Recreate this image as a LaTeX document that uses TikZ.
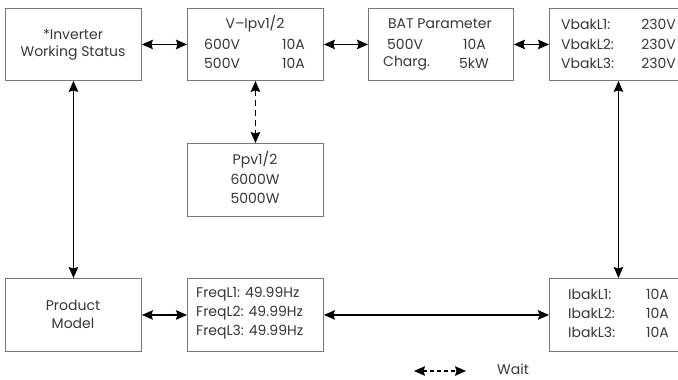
\documentclass[tikz,border=0pt]{standalone}
\usepackage{fontspec}
\setmainfont{Poppins}
\usetikzlibrary{arrows.meta}
\definecolor{boxgray}{RGB}{120,120,120}
\definecolor{txt}{RGB}{55,55,55}
\tikzset{
  box/.style={draw=boxgray, line width=0.9bp, minimum width=136bp, minimum height=72bp, inner sep=0pt, anchor=north west},
  lbl/.style={font=\fontsize{14bp}{16bp}\selectfont, text=txt, inner sep=0pt},
  conn/.style={line width=1.2bp, black, {Stealth[length=11bp,width=9.5bp,inset=1.5bp]}-{Stealth[length=11bp,width=9.5bp,inset=1.5bp]}},
  ppvconn/.style={conn, dash pattern=on 6bp off 4bp},
  waitconn/.style={conn, dash pattern=on 4bp off 3bp}
}
\begin{document}
\begin{tikzpicture}[x=1bp,y=-1bp]
\useasboundingbox (0,0) rectangle (678,379);
\clip (0,0) rectangle (678,379);
% boxes
\node[box] (inv) at (5,8) {};
\node[box] (vipv) at (187,8) {};
\node[box, minimum width=145bp] (bat) at (368,8) {};
\node[box, minimum width=138bp] (vbak) at (549,8) {};
\node[box, minimum height=73bp] (ppv) at (187,143) {};
\node[box, minimum height=73bp] (prod) at (5,278) {};
\node[box, minimum height=73bp] (freq) at (187,278) {};
\node[box, minimum width=138bp, minimum height=73bp] (ibak) at (549,278) {};
% texts
\node[lbl] (t1a) at (73,34) {*Inverter};
\node[lbl] (t1b) at (73,53) {Working Status};
\node[lbl] (t2a) at (255,24) {V–Ipv1/2};
\node[lbl, anchor=west] (t2b) at (204,44) {600V};
\node[lbl, anchor=east] (t2c) at (305,44) {10A};
\node[lbl, anchor=west] (t2d) at (204,63) {500V};
\node[lbl, anchor=east] (t2e) at (305,63) {10A};
\node[lbl] (t3a) at (440,24) {BAT Parameter};
\node[lbl, anchor=west] (t3b) at (387,44) {500V};
\node[lbl, anchor=east] (t3c) at (486,44) {10A};
\node[lbl, anchor=west] (t3d) at (383,63) {Charg.};
\node[lbl, anchor=east] (t3e) at (489,63) {5kW};
\node[lbl, anchor=west] (t4a) at (561,24) {VbakL1:};
\node[lbl, anchor=west] (t4b) at (561,44) {VbakL2:};
\node[lbl, anchor=west] (t4c) at (561,63) {VbakL3:};
\node[lbl, anchor=east] (t4d) at (676,24) {230V};
\node[lbl, anchor=east] (t4e) at (676,44) {230V};
\node[lbl, anchor=east] (t4f) at (676,63) {230V};
\node[lbl] (t5a) at (255,160) {Ppv1/2};
\node[lbl] (t5b) at (255,179) {6000W};
\node[lbl] (t5c) at (255,198) {5000W};
\node[lbl] (t6a) at (73,305) {Product};
\node[lbl] (t6b) at (73,323) {Model};
\node[lbl, anchor=west] (t7a) at (196,294) {FreqL1: 49.99Hz};
\node[lbl, anchor=west] (t7b) at (196,313) {FreqL2: 49.99Hz};
\node[lbl, anchor=west] (t7c) at (196,332) {FreqL3: 49.99Hz};
\node[lbl, anchor=west] (t8a) at (568,294) {IbakL1:};
\node[lbl, anchor=west] (t8b) at (568,313) {IbakL2:};
\node[lbl, anchor=west] (t8c) at (568,332) {IbakL3:};
\node[lbl, anchor=east] (t8d) at (669,294) {10A};
\node[lbl, anchor=east] (t8e) at (669,313) {10A};
\node[lbl, anchor=east] (t8f) at (669,332) {10A};
% connectors
\draw[conn] (inv.east) -- (vipv.west);
\draw[conn] (vipv.east) -- (bat.west);
\draw[conn] (bat.east) -- (vbak.west);
\draw[conn] (inv.south) -- (prod.north);
\draw[ppvconn] (vipv.south) -- (ppv.north);
\draw[conn] (vbak.south) -- (ibak.north);
\draw[conn] (prod.east) -- (freq.west);
\draw[conn] (freq.east) -- (ibak.west);
% legend
\coordinate (wa) at (414,371);
\coordinate (wb) at (466,371);
\draw[waitconn] (wa) -- (wb);
\node[lbl, anchor=west] (wait) at (497,369) {Wait};
\end{tikzpicture}
\end{document}
